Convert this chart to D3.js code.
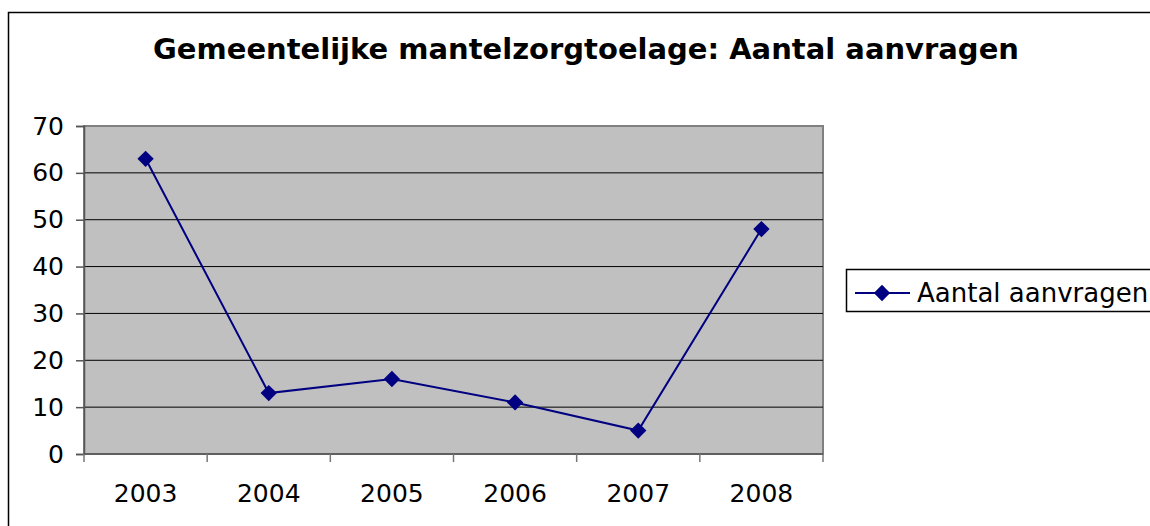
<!DOCTYPE html>
<html>
<head>
<meta charset="utf-8">
<script src="https://cdn.jsdelivr.net/npm/d3@7"></script>
<style>
  body { margin: 0; background: #fff; }
  text { font-family: "DejaVu Sans", Verdana, sans-serif; }
</style>
</head>
<body>
<svg id="mainsvg" width="1150" height="526"></svg>
<script>
const years = ["2003", "2004", "2005", "2006", "2007", "2008"]
const aanvragen = [63, 13, 16, 11, 5, 48]
const yTicks = [0, 10, 20, 30, 40, 50, 60, 70]
const seriesName = "Aantal aanvragen"
const title = "Gemeentelijke mantelzorgtoelage: Aantal aanvragen"

const svg = d3.select('#mainsvg')
const margin = { top: 126, left: 84 }
const innerWidth = 739
const innerHeight = 328

// chart border (right/bottom fall outside the picture)
svg.append("rect")
  .attr("x", 8.5).attr("y", 12.5)
  .attr("width", 1160).attr("height", 530)
  .attr("fill", "none").attr("stroke", "#000").attr("stroke-width", 1.5)

svg.append("text").text(title)
  .attr("x", 586).attr("y", 59)
  .attr("text-anchor", "middle")
  .attr("font-weight", "bold")
  .attr("font-size", "29px")

const g = svg.append("g")
  .attr("transform", `translate(${margin.left}, ${margin.top})`)

const xScale = d3.scaleBand().domain(years).range([0, innerWidth])
const yScale = d3.scaleLinear().domain([0, 70]).range([innerHeight, 0])

// plot area
g.append("rect")
  .attr("width", innerWidth).attr("height", innerHeight)
  .attr("fill", "#c0c0c0")
  .attr("stroke", "#808080").attr("stroke-width", 2)

// gridlines
g.append("g").selectAll("line").data(yTicks.slice(1, -1)).join("line")
  .attr("x1", 0).attr("x2", innerWidth)
  .attr("y1", d => yScale(d)).attr("y2", d => yScale(d))
  .attr("stroke", "#000").attr("stroke-width", 1)

// y axis
const yAxis = d3.axisLeft(yScale).tickValues(yTicks).tickSize(8).tickPadding(12)
const yg = g.append("g").call(yAxis)
yg.select(".domain").attr("stroke", "#555").attr("stroke-width", 1.5)
yg.selectAll(".tick line").attr("stroke", "#555").attr("stroke-width", 1.5)
yg.selectAll(".tick text").attr("font-size", "25px").attr("fill", "#000")
  .attr("font-family", "DejaVu Sans, Verdana, sans-serif")

// x axis, ticks on category boundaries
const xg = g.append("g").attr("transform", `translate(0, ${innerHeight})`)
xg.append("line").attr("x1", 0).attr("x2", innerWidth)
  .attr("stroke", "#555").attr("stroke-width", 1.5)
xg.selectAll(".xtick").data(years.concat(["end"])).join("line")
  .attr("x1", (d, i) => i * xScale.step()).attr("x2", (d, i) => i * xScale.step())
  .attr("y1", 0).attr("y2", 8)
  .attr("stroke", "#777").attr("stroke-width", 1.5)
xg.selectAll("text").data(years).join("text")
  .text(d => d)
  .attr("x", d => xScale(d) + xScale.bandwidth() / 2)
  .attr("y", 48)
  .attr("text-anchor", "middle")
  .attr("font-size", "25px")

// line + markers
const cx = d => xScale(d) + xScale.bandwidth() / 2
const pts = years.map((y, i) => [cx(y), yScale(aanvragen[i])])
g.append("path")
  .attr("d", d3.line()(pts))
  .attr("fill", "none").attr("stroke", "#000080").attr("stroke-width", 2)

const diamond = d3.symbol().type(d3.symbolDiamond2).size(170)
g.selectAll(".pt").data(pts).join("path")
  .attr("d", diamond)
  .attr("transform", d => `translate(${d[0]}, ${d[1]})`)
  .attr("fill", "#000080")

// legend
const lg = svg.append("g")
lg.append("rect")
  .attr("x", 846.5).attr("y", 269.5).attr("width", 320).attr("height", 42)
  .attr("fill", "#fff").attr("stroke", "#000").attr("stroke-width", 1.5)
lg.append("line").attr("x1", 855).attr("x2", 910).attr("y1", 293).attr("y2", 293)
  .attr("stroke", "#000080").attr("stroke-width", 2)
lg.append("path").attr("d", diamond)
  .attr("transform", "translate(882, 293)")
  .attr("fill", "#000080")
lg.append("text").text(seriesName)
  .attr("x", 917).attr("y", 302)
  .attr("font-size", "26px")
</script>
</body>
</html>
